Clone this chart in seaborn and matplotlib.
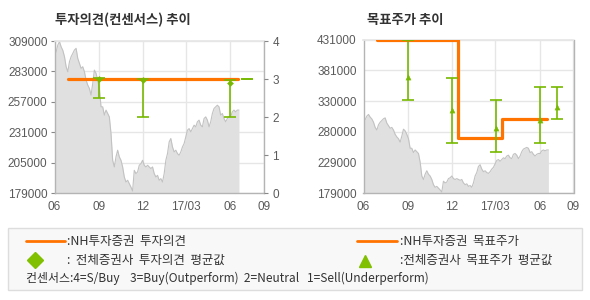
import numpy as np
import pandas as pd
import matplotlib
matplotlib.use("Agg")
import matplotlib.pyplot as plt
from matplotlib.lines import Line2D
from matplotlib.patches import Rectangle
import seaborn as sns

# ---------------- data ----------------
price_start = "2016-06-01"
price_end = "2017-06-19"
price = [295600, 299900, 305600, 308400, 304000, 301000, 295600, 287000, 282700, 291300,
         295600, 298400, 301300, 302700, 294100, 289900, 285600, 287000, 282700, 275600,
         271300, 268400, 262700, 272700, 284100, 281300, 275600, 268400, 252700, 252700,
         245600, 249900, 247000, 244100, 229900, 207000, 201300, 209900, 215600, 209900,
         207000, 201300, 192700, 188400, 189900, 187000, 184100, 180700, 198400, 195600,
         197000, 202700, 204100, 207000, 202700, 201300, 202700, 201300, 199900, 201300,
         195600, 192700, 194100, 189900, 191300, 188400, 195600, 207000, 212700, 222700,
         225600, 218400, 214100, 215600, 212700, 211300, 214100, 218400, 221300, 227000,
         232700, 234100, 231300, 234100, 237000, 235600, 239900, 241300, 237000, 235600,
         242700, 244100, 241300, 235600, 239900, 247000, 251300, 252700, 254100, 252700,
         245600, 247000, 242700, 239900, 242700, 244100, 244100, 248400, 249900, 248400,
         249900, 249900]

# NH opinion (consensus scale 1-4)
nh_op_dates = ["2016-06-30", "2017-06-17"]
nh_op_vals = [3, 3]

# consensus opinion (all brokers): date, min, max, mean
cons_op_dates = ["2016-09-01", "2016-12-01", "2017-06-01", "2017-07-05"]
cons_op_lo = [2.5, 2.0, 2.0, 3.0]
cons_op_hi = [3.03, 3.0, 2.97, 3.0]
cons_op_mean = [3.0, 2.98, 2.9, np.nan]

# NH target price (step)
nh_tp_dates = ["2016-06-30", "2016-12-14", "2017-03-15", "2017-06-16"]
nh_tp_vals = [431000, 270000, 301000, 301000]

# consensus target price
cons_tp_dates = ["2016-09-01", "2016-12-01", "2017-03-03", "2017-06-01", "2017-07-06"]
cons_tp_lo = [333000, 262000, 247000, 262000, 301700]
cons_tp_hi = [431000, 367700, 333000, 352900, 352900]
cons_tp_mean = [370500, 315500, 286300, 299000, 321000]

x_ticks = ["2016-06-01", "2016-09-01", "2016-12-01", "2017-03-01", "2017-06-01", "2017-08-10"]
x_labels = ["06", "09", "12", "17/03", "06", "09"]
left_yticks = [179000, 205000, 231000, 257000, 283000, 309000]
right_yticks = [179000, 229000, 280000, 330000, 381000, 431000]
op_ticks = [0, 1, 2, 3, 4]

title_left = "투자의견(컨센서스) 추이"
title_right = "목표주가 추이"
legend_texts = [":NH투자증권  투자의견", ":NH투자증권  목표주가",
                ":  전체증권사  투자의견  평균값", ":전체증권사  목표주가  평균값"]
consensus_text = "컨센서스:4=S/Buy    3=Buy(Outperform)  2=Neutral   1=Sell(Underperform)"

# ---------------- style ----------------
sns.set_theme(style="white")
plt.rcParams["font.family"] = ["Liberation Sans", "Noto Sans CJK KR", "DejaVu Sans"]
KR = ["Noto Sans CJK KR", "DejaVu Sans"]

ORANGE = "#ff7300"
GREEN = "#76b900"
GRID = "#e6e6e6"
SPINE = "#b4b4b4"
FILL = "#e0e0e0"
PLINE = "#c2c2c2"
TXT = "#5a5a5a"

df_price = pd.DataFrame({"date": pd.date_range(price_start, price_end, periods=len(price)),
                         "price": price})
xt = pd.to_datetime(x_ticks)
xlim = (pd.Timestamp(x_ticks[0]), pd.Timestamp(x_ticks[-1]))

fig = plt.figure(figsize=(5.9, 3.0), dpi=100)
W, H = 590, 300


def fx(p):
    return p / W


def fy(p):
    return 1 - p / H


def style_axes(ax, yticks, ylabels):
    ax.set_facecolor("white")
    ax.set_xlim(*xlim)
    ax.set_xticks(xt)
    ax.set_xticklabels(x_labels)
    ax.set_yticks(yticks)
    ax.set_yticklabels(ylabels)
    ax.set_ylim(yticks[0], yticks[-1])
    ax.grid(True, color=GRID, lw=1.0)
    ax.set_axisbelow(True)
    for s in ["left", "bottom", "right"]:
        ax.spines[s].set_color(SPINE)
        ax.spines[s].set_linewidth(1.0)
    ax.spines["top"].set_color(GRID)
    ax.tick_params(axis="both", which="both", length=3, width=0.8, color="#888888",
                   labelsize=8.5, labelcolor=TXT, pad=2, direction="out")
    ax.tick_params(axis="x", pad=3)
    ax.set_xlabel("")
    ax.set_ylabel("")


def draw_price(ax, ymin):
    ax.fill_between(df_price["date"], df_price["price"], ymin, color=FILL, lw=0, zorder=1)
    sns.lineplot(data=df_price, x="date", y="price", ax=ax, color=PLINE, lw=0.8, zorder=2)


# ---------- left chart ----------
axL = fig.add_axes([fx(54.5), fy(193), fx(264 - 54.5), (193 - 41) / H])
draw_price(axL, left_yticks[0])
style_axes(axL, left_yticks, [str(v) for v in left_yticks])

axL2 = axL.twinx()
axL2.set_ylim(op_ticks[0], op_ticks[-1])
axL2.set_yticks(op_ticks)
axL2.set_yticklabels([str(v) for v in op_ticks])
axL2.tick_params(axis="y", length=3, width=0.8, color="#888888", labelsize=8.5,
                 labelcolor=TXT, pad=3)
for s in axL2.spines.values():
    s.set_visible(False)
axL2.grid(False)

dop = pd.DataFrame({"date": pd.to_datetime(nh_op_dates), "v": nh_op_vals})
sns.lineplot(data=dop, x="date", y="v", ax=axL2, color=ORANGE, lw=2.3, zorder=3)
cod = pd.to_datetime(cons_op_dates)
cmean = np.array(cons_op_mean, dtype=float)
center = np.where(np.isnan(cmean), np.array(cons_op_lo), cmean)
axL2.errorbar(cod, center,
              yerr=[center - np.array(cons_op_lo), np.array(cons_op_hi) - center],
              fmt="none", ecolor=GREEN, elinewidth=1.2, capsize=4, capthick=1.2, zorder=4)
dcm = pd.DataFrame({"date": cod, "m": cmean}).dropna()
sns.scatterplot(data=dcm, x="date", y="m", ax=axL2, marker="D", s=10, color=GREEN,
                edgecolor=GREEN, zorder=5)
axL2.set_xlim(*xlim)
axL2.set_xlabel("")
axL2.set_ylabel("")

fig.text(fx(55), fy(20), title_left, family=KR, fontsize=9.6, fontweight="bold",
         color="#333333", ha="left", va="center")

# ---------- right chart ----------
axR = fig.add_axes([fx(363.5), fy(193), fx(573.5 - 363.5), (193 - 40) / H])
draw_price(axR, right_yticks[0])
style_axes(axR, right_yticks, [str(v) for v in right_yticks])

dtp = pd.DataFrame({"date": pd.to_datetime(nh_tp_dates), "v": nh_tp_vals})
sns.lineplot(data=dtp, x="date", y="v", ax=axR, color=ORANGE, lw=2.3,
             drawstyle="steps-post", zorder=3)
ctd = pd.to_datetime(cons_tp_dates)
tm = np.array(cons_tp_mean, dtype=float)
axR.errorbar(ctd, tm, yerr=[tm - np.array(cons_tp_lo), np.array(cons_tp_hi) - tm],
             fmt="none", ecolor=GREEN, elinewidth=1.2, capsize=4, capthick=1.2, zorder=4)
sns.scatterplot(x=ctd, y=tm, ax=axR, marker="^", s=14, color=GREEN, edgecolor=GREEN, zorder=5)
axR.set_xlim(*xlim)
axR.set_ylim(right_yticks[0], right_yticks[-1])
axR.set_xlabel("")
axR.set_ylabel("")

fig.text(fx(367), fy(20), title_right, family=KR, fontsize=9.6, fontweight="bold",
         color="#333333", ha="left", va="center")

# ---------- legend box ----------
fig.add_artist(Rectangle((fx(8), fy(290)), fx(574), 62 / H, transform=fig.transFigure,
                         facecolor="#f8f8f8", edgecolor="#dddddd", lw=1.0))
fig.add_artist(Line2D([fx(26), fx(65)], [fy(241), fy(241)], transform=fig.transFigure,
                      color=ORANGE, lw=2.0))
fig.add_artist(Line2D([fx(357), fx(397)], [fy(241), fy(241)], transform=fig.transFigure,
                      color=ORANGE, lw=2.0))
fig.add_artist(Line2D([fx(35)], [fy(260)], transform=fig.transFigure, marker="D",
                      markersize=8, color="#80c000", lw=0))
fig.add_artist(Line2D([fx(365)], [fy(261)], transform=fig.transFigure, marker="^",
                      markersize=9, color="#80c000", lw=0))
fs_leg = 9.0
fig.text(fx(67), fy(241), legend_texts[0], family=KR, fontsize=fs_leg, color="#333333",
         va="center", ha="left")
fig.text(fx(400), fy(241), legend_texts[1], family=KR, fontsize=fs_leg, color="#333333",
         va="center", ha="left")
fig.text(fx(67), fy(260), legend_texts[2], family=KR, fontsize=fs_leg, color="#333333",
         va="center", ha="left")
fig.text(fx(400), fy(260), legend_texts[3], family=KR, fontsize=fs_leg, color="#333333",
         va="center", ha="left")
fig.text(fx(26), fy(278), consensus_text, family=KR, fontsize=8.6, color="#333333",
         va="center", ha="left")

fig.savefig("out.png", dpi=100, facecolor="white")
